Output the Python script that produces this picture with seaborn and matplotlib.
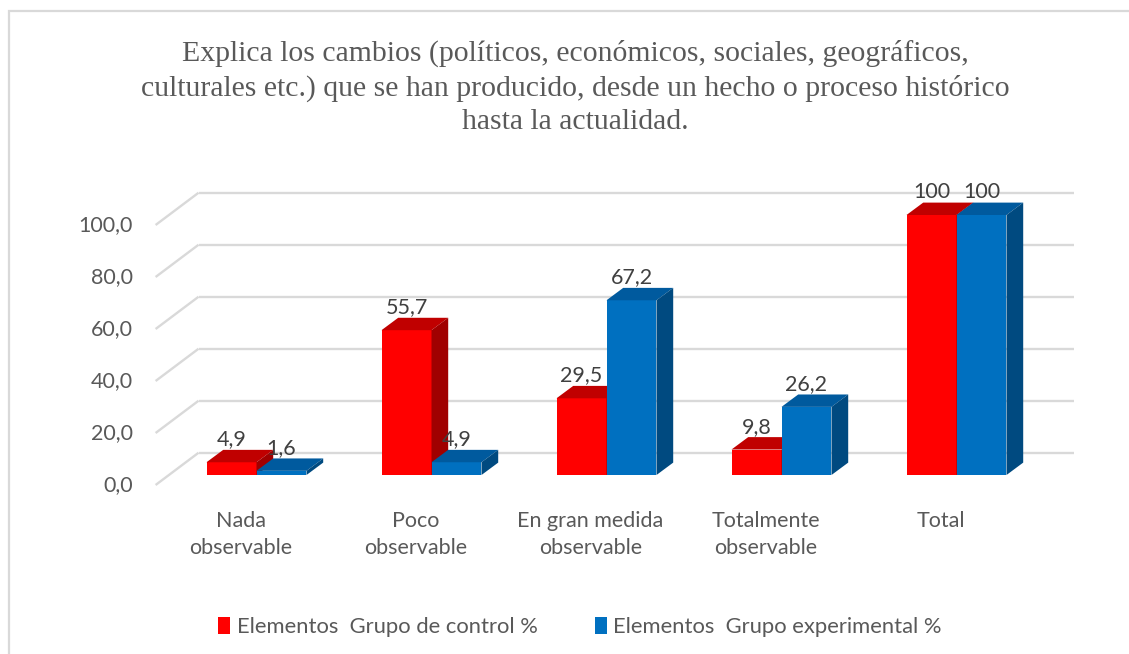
import numpy as np
import pandas as pd
import matplotlib
matplotlib.use("Agg")
import matplotlib.pyplot as plt
import matplotlib.transforms as mtransforms
from matplotlib.patches import Polygon, Patch, Rectangle
import seaborn as sns

# ---------------- data ----------------
categories = ["Nada\nobservable", "Poco\nobservable", "En gran medida\nobservable",
              "Totalmente\nobservable", "Total"]
series_names = ["Elementos  Grupo de control %", "Elementos  Grupo experimental %"]
control_values = [4.9, 55.7, 29.5, 9.8, 100]
experimental_values = [1.6, 4.9, 67.2, 26.2, 100]
y_ticks = [0, 20, 40, 60, 80, 100]
title_text = ("Explica los cambios (políticos, económicos, sociales, geográficos,\n"
              "culturales etc.) que se han producido, desde un hecho o proceso histórico\n"
              "hasta la actualidad.")

# ---------------- style ----------------
front_colors = ["#FF0000", "#0070C0"]
top_colors = ["#C00000", "#005A9E"]
side_colors = ["#A00000", "#004A80"]
grid_color = "#D9D9D9"
text_color = "#595959"
label_color = "#404040"

sns.set_theme(style="white")
plt.rcParams["font.family"] = ["Lato", "DejaVu Sans"]

W, H, DPI = 1129, 654, 100
fig = plt.figure(figsize=(W / DPI, H / DPI), dpi=DPI)
fig.patch.set_facecolor("white")

# axes = plane of the bars' front faces
ax_left, ax_right, ax_top, ax_bottom = 169, 1044, 215, 475
ax = fig.add_axes([ax_left / W, 1 - ax_bottom / H, (ax_right - ax_left) / W,
                   (ax_bottom - ax_top) / H])

df = pd.DataFrame({
    "cat": categories * 2,
    "value": control_values + experimental_values,
    "group": [series_names[0]] * len(categories) + [series_names[1]] * len(categories),
})

sns.barplot(data=df, x="cat", y="value", hue="group", hue_order=series_names,
            palette=front_colors, saturation=1, width=0.5714, linewidth=0,
            legend=False, ax=ax)

ax.set_xlim(-0.5, len(categories) - 0.5)
ax.set_ylim(0, 100)
ax.set_xlabel("")
ax.set_ylabel("")
ax.set_xticks([])
ax.set_yticks([])
for s in ax.spines.values():
    s.set_visible(False)
ax.patch.set_alpha(0)


def shift(x, y, dxpx, dypx):
    X, Y = ax.transData.transform((x, y))
    return ax.transData.inverted().transform((X + dxpx, Y + dypx))


# depth offsets in pixels (relative to bar front plane)
BAR_DX, BAR_DY = 16.7, 12.4
BACK_DX, BACK_DY = 29.6, 22.3
FRONT_DX, FRONT_DY = -13.4, -10.0

x0, x1 = ax.get_xlim()
for v in y_ticks:
    a = shift(x0, v, BACK_DX, BACK_DY)
    b = shift(x1, v, BACK_DX, BACK_DY)
    c = shift(x0, v, FRONT_DX, FRONT_DY)
    ax.plot([a[0], b[0]], [a[1], b[1]], color=grid_color, lw=1.7, zorder=0.5,
            clip_on=False, solid_capstyle="butt")
    ax.plot([c[0], a[0]], [c[1], a[1]], color=grid_color, lw=1.7, zorder=0.5,
            clip_on=False, solid_capstyle="butt")

# 3D faces for each bar
for k, cont in enumerate(ax.containers):
    z = 3 + k
    for bar in cont.patches:
        bar.set_zorder(z)
        bx, bw, bh = bar.get_x(), bar.get_width(), bar.get_height()
        p1 = (bx, bh)
        p2 = (bx + bw, bh)
        p3 = tuple(shift(bx + bw, bh, BAR_DX, BAR_DY))
        p4 = tuple(shift(bx, bh, BAR_DX, BAR_DY))
        ax.add_patch(Polygon([p1, p2, p3, p4], closed=True, facecolor=top_colors[k],
                             edgecolor="none", zorder=z, clip_on=False))
        q1 = (bx + bw, 0)
        q2 = (bx + bw, bh)
        q4 = tuple(shift(bx + bw, 0, BAR_DX, BAR_DY))
        ax.add_patch(Polygon([q1, q2, p3, q4], closed=True, facecolor=side_colors[k],
                             edgecolor="none", zorder=z, clip_on=False))
        val = bh
        txt = f"{val:.0f}" if float(val).is_integer() else f"{val:.1f}".replace(".", ",")
        ax.annotate(txt, (bx + bw / 2, bh), xytext=(0, 16.5), textcoords="offset points",
                    ha="center", va="center", fontsize=15.5, color=label_color, zorder=10,
                    annotation_clip=False)

# y tick labels on the front plane
ytrans = ax.get_yaxis_transform() + mtransforms.ScaledTranslation(-36 / DPI, FRONT_DY / DPI,
                                                                     fig.dpi_scale_trans)
for v in y_ticks:
    ax.text(0, v, f"{v:.1f}".replace(".", ","), transform=ytrans, ha="right", va="center",
            fontsize=15.5, color=text_color)

# category labels
xtrans = ax.get_xaxis_transform() + mtransforms.ScaledTranslation(-16 / DPI, -36 / DPI,
                                                                     fig.dpi_scale_trans)
for i, c in enumerate(categories):
    ax.text(i, 0, c, transform=xtrans, ha="center", va="top", fontsize=15.5,
            color=text_color, linespacing=1.42)

# title
fig.text(575 / W, 1 - 87 / H, title_text, ha="center", va="center",
         family=["Liberation Serif", "DejaVu Serif"], fontsize=21.4, color=text_color,
         linespacing=1.36)

# legend
handles = [Patch(facecolor=front_colors[i], edgecolor="none", label=series_names[i])
           for i in range(2)]
leg = fig.legend(handles=handles, loc="center", bbox_to_anchor=(580 / W, 1 - 627 / H),
                 ncol=2, frameon=False, fontsize=15.8, handlelength=0.55, handleheight=0.8,
                 handletextpad=0.3, columnspacing=2.6)
for t in leg.get_texts():
    t.set_color(text_color)

# chart frame
fig.patches.append(Rectangle((8.5 / W, -0.1), 1.2, (1 - 11 / H) + 0.1, transform=fig.transFigure,
                             fill=False, edgecolor=grid_color, lw=1.6, zorder=0))

fig.savefig("out.png", dpi=DPI)
